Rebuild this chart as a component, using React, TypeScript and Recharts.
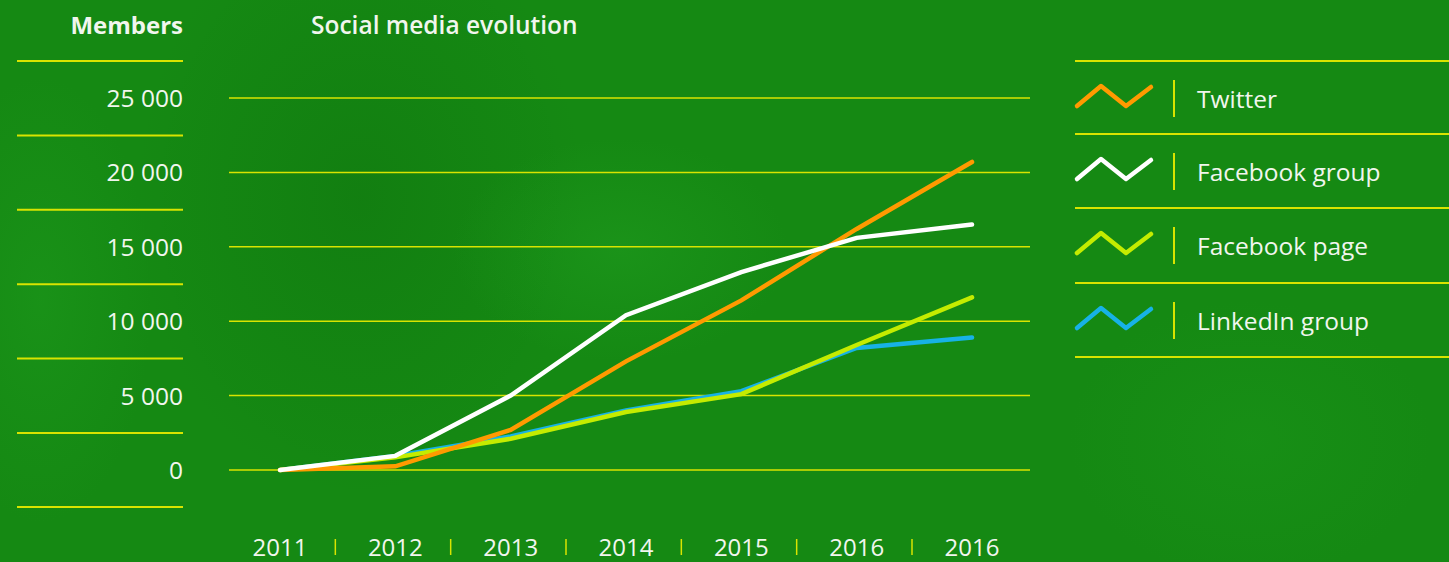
import { LineChart, Line, XAxis, YAxis, CartesianGrid } from "recharts"

const YEARS = ["2011", "2012", "2013", "2014", "2015", "2016", "2016"]
const TWITTER = [0, 250, 2700, 7300, 11400, 16200, 20700]
const FB_GROUP = [0, 950, 5000, 10400, 13300, 15600, 16500]
const FB_PAGE = [0, 850, 2100, 3900, 5100, 8400, 11600]
const LINKEDIN = [0, 950, 2250, 4000, 5300, 8200, 8900]
const Y_TICKS = [0, 5000, 10000, 15000, 20000, 25000]

const YELLOW = "#d8e400"
const TEXT = "#f1f6ee"
const FONT = "'Open Sans', sans-serif"

// legend order (top to bottom)
const SERIES = [
  { key: "twitter", name: "Twitter", color: "#ff9a00" },
  { key: "fbGroup", name: "Facebook group", color: "#ffffff" },
  { key: "fbPage", name: "Facebook page", color: "#c4ec00" },
  { key: "linkedin", name: "LinkedIn group", color: "#17b2e6" },
]

const data = YEARS.map((year, i) => ({
  year,
  twitter: TWITTER[i],
  fbGroup: FB_GROUP[i],
  fbPage: FB_PAGE[i],
  linkedin: LINKEDIN[i],
}))

const fmt = (v: number) => (v >= 1000 ? `${Math.round(v / 1000)} 000` : `${v}`)

const YTick = ({ y, payload }: any) => (
  <g>
    <line x1={17} x2={183} y1={y - 37} y2={y - 37} stroke={YELLOW} strokeWidth={2} />
    {payload.value === 0 && (
      <line x1={17} x2={183} y1={y + 37} y2={y + 37} stroke={YELLOW} strokeWidth={2} />
    )}
    <text x={183} y={y + 9} textAnchor="end" fill={TEXT} fontSize={24.5} fontFamily={FONT}>
      {fmt(payload.value)}
    </text>
  </g>
)

const XTick = ({ x, index, payload }: any) => (
  <g>
    {index > 0 && (
      <line x1={x - 60} x2={x - 60} y1={539} y2={555} stroke={YELLOW} strokeWidth={1.5} />
    )}
    <text x={x} y={556} textAnchor="middle" fill={TEXT} fontSize={24} fontFamily={FONT}>
      {payload.value}
    </text>
  </g>
)

const LegendBox = () => (
  <div style={{ position: "absolute", left: 1075, top: 60, width: 374, fontFamily: FONT }}>
    {SERIES.map((s, i) => (
      <div
        key={s.key}
        style={{
          position: "relative",
          height: 74.5,
          borderTop: i === 0 ? `2px solid ${YELLOW}` : "none",
          borderBottom: `2px solid ${YELLOW}`,
          boxSizing: "border-box",
        }}
      >
        <svg width={90} height={40} style={{ position: "absolute", left: -2, top: 18 }}>
          <polyline
            points="4,26 28,6 53,26 78,7"
            fill="none"
            stroke={s.color}
            strokeWidth={4.5}
            strokeLinecap="round"
            strokeLinejoin="round"
          />
        </svg>
        <div
          style={{
            position: "absolute",
            left: 98,
            top: 18,
            width: 2,
            height: 37,
            background: YELLOW,
          }}
        />
        <div
          style={{
            position: "absolute",
            left: 122,
            top: 21,
            color: TEXT,
            fontSize: 24.5,
            lineHeight: "32px",
            whiteSpace: "nowrap",
          }}
        >
          {s.name}
        </div>
      </div>
    ))}
  </div>
)

export default function App() {
  return (
    <div
      style={{
        position: "absolute",
        left: 0,
        top: 0,
        width: 1449,
        height: 562,
        overflow: "hidden",
        fontFamily: FONT,
        background:
          "radial-gradient(ellipse 240px 160px at 620px 250px, rgba(40,170,40,0.3), rgba(0,0,0,0) 70%)," +
          "radial-gradient(ellipse 320px 420px at 360px 200px, rgba(8,90,8,0.22), rgba(0,0,0,0) 70%)," +
          "radial-gradient(ellipse 160px 320px at 40px 300px, rgba(35,165,35,0.3), rgba(0,0,0,0) 70%)," +
          "radial-gradient(ellipse 260px 200px at 1250px 440px, rgba(30,160,30,0.25), rgba(0,0,0,0) 70%)," +
          "#158913",
      }}
    >
      <div
        style={{
          position: "absolute",
          right: 1449 - 183,
          top: 9,
          color: TEXT,
          fontSize: 24,
          fontWeight: 700,
          lineHeight: "32px",
        }}
      >
        Members
      </div>
      <div
        style={{
          position: "absolute",
          left: 311,
          top: 9,
          color: TEXT,
          fontSize: 24.5,
          fontWeight: 600,
          lineHeight: "32px",
        }}
      >
        Social media evolution
      </div>
      <LegendBox />
      <LineChart
        width={1449}
        height={562}
        data={data}
        margin={{ top: 98, right: 419, bottom: 0, left: 0 }}
        style={{ position: "absolute", left: 0, top: 0 }}
      >
        <CartesianGrid vertical={false} stroke={YELLOW} strokeWidth={1.5} />
        <XAxis
          dataKey="year"
          height={92}
          axisLine={false}
          tickLine={false}
          padding={{ left: 51, right: 58 }}
          tick={<XTick />}
          interval={0}
        />
        <YAxis
          width={229}
          domain={[0, 25000]}
          ticks={Y_TICKS}
          axisLine={false}
          tickLine={false}
          tick={<YTick />}
        />
        <Line dataKey="linkedin" name="LinkedIn group" stroke="#17b2e6" strokeWidth={4.5} dot={false} strokeLinecap="round" isAnimationActive={false} />
        <Line dataKey="fbPage" name="Facebook page" stroke="#c4ec00" strokeWidth={4.5} dot={false} strokeLinecap="round" isAnimationActive={false} />
        <Line dataKey="twitter" name="Twitter" stroke="#ff9a00" strokeWidth={4.5} dot={false} strokeLinecap="round" isAnimationActive={false} />
        <Line dataKey="fbGroup" name="Facebook group" stroke="#ffffff" strokeWidth={4.5} dot={false} strokeLinecap="round" isAnimationActive={false} />
      </LineChart>
    </div>
  )
}
